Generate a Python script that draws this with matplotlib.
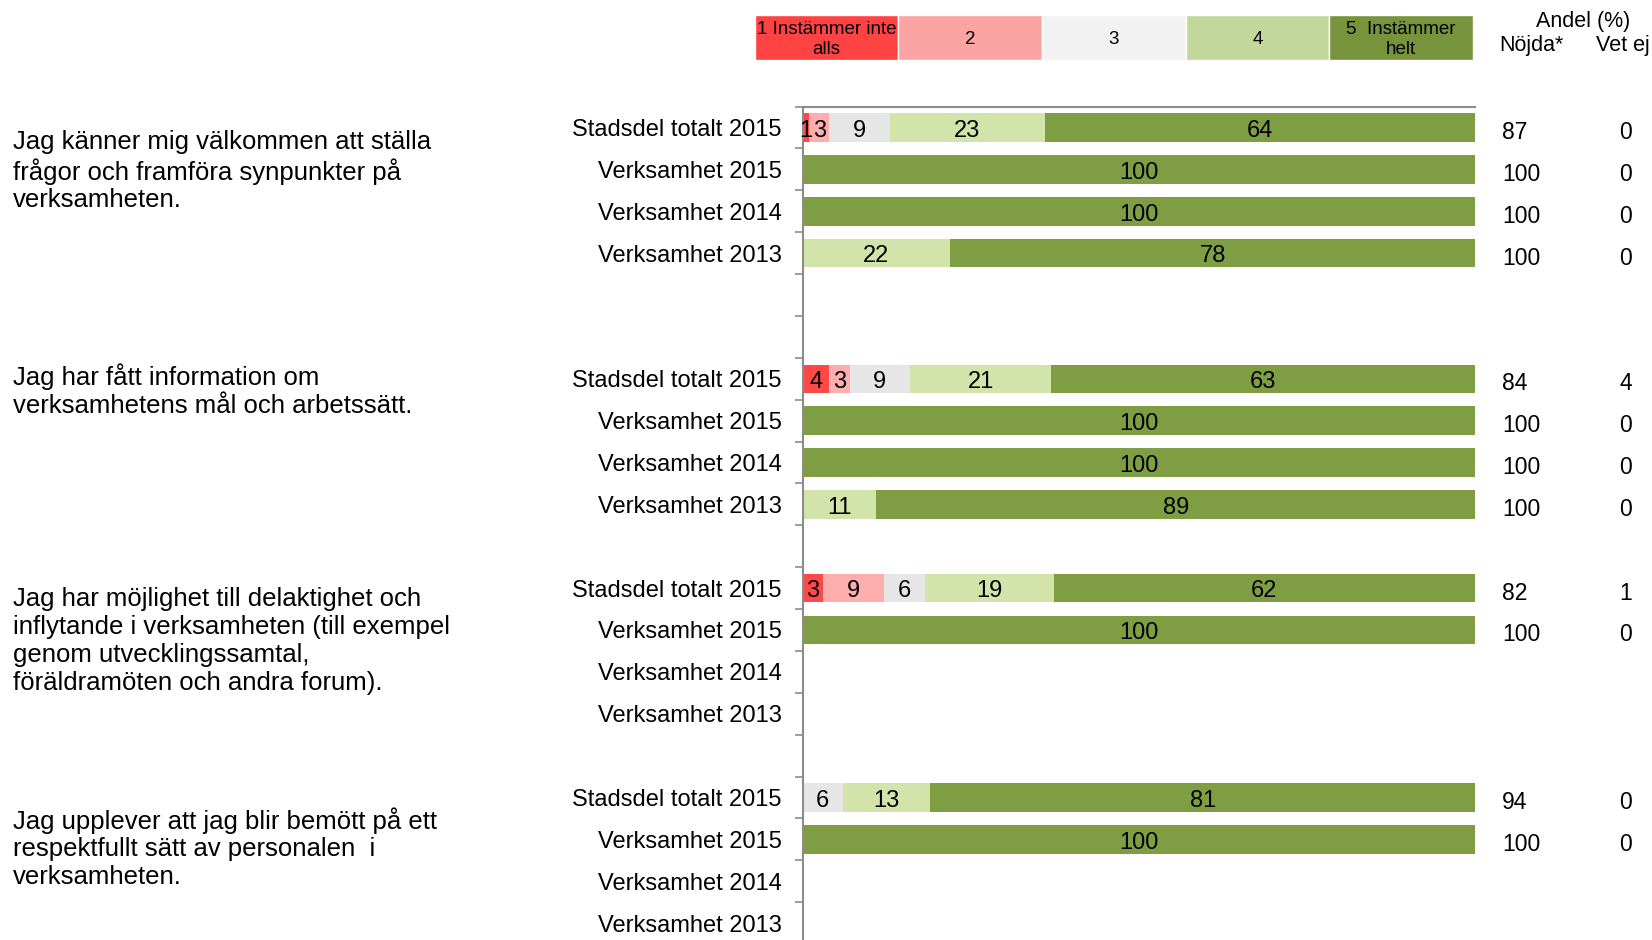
import matplotlib.pyplot as plt
import numpy as np
from matplotlib.transforms import blended_transform_factory

plt.rcParams['font.family'] = ['Liberation Sans', 'DejaVu Sans']

# rows of the chart, top to bottom ('' = empty spacer row)
row_labels = ['Stadsdel totalt 2015', 'Verksamhet 2015', 'Verksamhet 2014', 'Verksamhet 2013', '', '',
              'Stadsdel totalt 2015', 'Verksamhet 2015', 'Verksamhet 2014', 'Verksamhet 2013', '',
              'Stadsdel totalt 2015', 'Verksamhet 2015', 'Verksamhet 2014', 'Verksamhet 2013', '',
              'Stadsdel totalt 2015', 'Verksamhet 2015', 'Verksamhet 2014', 'Verksamhet 2013']

# share (%) answering 1..5 per row
s1 = [1, 0, 0, 0, 0, 0, 4, 0, 0, 0, 0, 3, 0, 0, 0, 0, 0, 0, 0, 0]
s2 = [3, 0, 0, 0, 0, 0, 3, 0, 0, 0, 0, 9, 0, 0, 0, 0, 0, 0, 0, 0]
s3 = [9, 0, 0, 0, 0, 0, 9, 0, 0, 0, 0, 6, 0, 0, 0, 0, 6, 0, 0, 0]
s4 = [23, 0, 0, 22, 0, 0, 21, 0, 0, 11, 0, 19, 0, 0, 0, 0, 13, 0, 0, 0]
s5 = [64, 100, 100, 78, 0, 0, 63, 100, 100, 89, 0, 62, 100, 0, 0, 0, 81, 100, 0, 0]

nojda = ['87', '100', '100', '100', '', '', '84', '100', '100', '100', '',
         '82', '100', '', '', '', '94', '100', '', '']
vet_ej = ['0', '0', '0', '0', '', '', '4', '0', '0', '0', '',
          '1', '0', '', '', '', '0', '0', '', '']

questions = ['Jag känner mig välkommen att ställa\nfrågor och framföra synpunkter på\nverksamheten.',
             'Jag har fått information om\nverksamhetens mål och arbetssätt.',
             'Jag har möjlighet till delaktighet och\ninflytande i verksamheten (till exempel\ngenom utvecklingssamtal,\nföräldramöten och andra forum).',
             'Jag upplever att jag blir bemött på ett\nrespektfullt sätt av personalen  i\nverksamheten.']
question_y = [171, 391, 641, 848]  # pixel centres

legend_labels = ['1 Instämmer inte\nalls', '2', '3', '4', '5  Instämmer\nhelt']
legend_colors = ['#FF4343', '#FAA4A4', '#F2F2F2', '#C4D79B', '#77933C']
bar_colors = ['#FF4848', '#FFAEAE', '#E6E6E6', '#D2E4A9', '#7F9E43']

W, H = 1652, 940
fig = plt.figure(figsize=(W / 100, H / 100), dpi=100)

# main chart (100 % stacked bars)
ax = fig.add_axes([802.5 / W, 1 - 944 / H, (1475 - 802.5) / W, (944 - 106.6) / H])
y = np.arange(len(row_labels))
data = np.array([s1, s2, s3, s4, s5], dtype=float)
totals = data.sum(axis=0)
scale = np.divide(100.0, totals, out=np.zeros_like(totals), where=totals > 0)
left = np.zeros(len(row_labels))
for vals, col in zip(data, bar_colors):
    widths = vals * scale
    ax.barh(y, widths, left=left, height=0.68, color=col, edgecolor='none')
    for yi, v, w, l in zip(y, vals, widths, left):
        if v > 0:
            ax.text(l + w / 2, yi + 0.08, f'{v:.0f}', ha='center', va='center', fontsize=17)
    left += widths

ax.set_xlim(0, 100)
ax.set_ylim(len(row_labels) - 0.5, -0.5)
ax.set_xticks([])
ax.set_yticks(y)
ax.set_yticklabels(row_labels, fontsize=17)
ax.set_yticks(np.arange(len(row_labels) + 1) - 0.5, minor=True)
ax.tick_params(axis='y', which='major', length=0, pad=15)
ax.tick_params(axis='y', which='minor', length=6, width=1.2, color='#8c8c8c')
for side in ['right', 'bottom']:
    ax.spines[side].set_visible(False)
for side in ['left', 'top']:
    ax.spines[side].set_color('#8c8c8c')
    ax.spines[side].set_linewidth(1.5)

# right-hand columns
tr = blended_transform_factory(fig.transFigure, ax.transData)
for yi, n, v in zip(y, nojda, vet_ej):
    ax.text(1502 / W, yi + 0.12, n, ha='left', va='center', fontsize=16.5, transform=tr)
    ax.text(1626 / W, yi + 0.12, v, ha='center', va='center', fontsize=16.5, transform=tr)

fig.text(1583 / W, 1 - 21 / H, 'Andel (%)', ha='center', va='center', fontsize=15.5)
fig.text(1531 / W, 1 - 45 / H, 'Nöjda*', ha='center', va='center', fontsize=15.5)
fig.text(1596 / W, 1 - 45 / H, 'Vet ej', ha='left', va='center', fontsize=15.5)

# questions
for q, qy in zip(questions, question_y):
    fig.text(13 / W, 1 - qy / H, q, ha='left', va='center', fontsize=18.5, linespacing=1.2)

# colour legend
lax = fig.add_axes([754.5 / W, 1 - 60 / H, (1473 - 754.5) / W, 45 / H])
for i, (lab, col) in enumerate(zip(legend_labels, legend_colors)):
    lax.barh(0, 1, left=i, height=1, color=col, edgecolor='white', linewidth=1)
    lax.text(i + 0.5, -0.04, lab, ha='center', va='center', fontsize=13.5, linespacing=1.2)
lax.set_xlim(0, 5)
lax.set_ylim(-0.5, 0.5)
lax.axis('off')

fig.savefig('out.png', dpi=100)
